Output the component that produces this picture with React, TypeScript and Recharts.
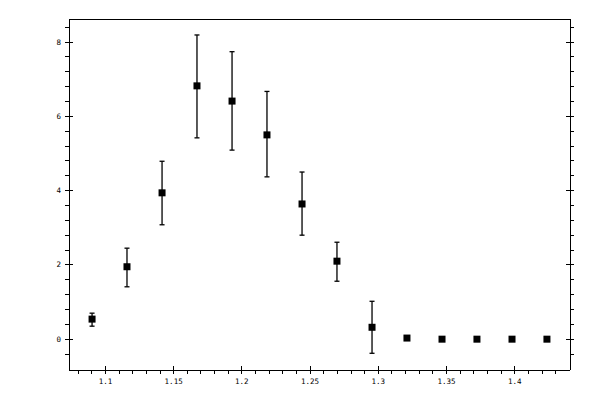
import React from 'react';
import { ScatterChart, Scatter, XAxis, YAxis, ErrorBar } from 'recharts';

// measured points (x, y) with lower / upper error lengths
const xValues = [1.0902, 1.1158, 1.1415, 1.1671, 1.1928, 1.2184, 1.2441, 1.2697, 1.2954, 1.321, 1.3467, 1.3723, 1.398, 1.4236];
const yValues = [0.54, 1.95, 3.94, 6.82, 6.41, 5.5, 3.64, 2.1, 0.32, 0.03, 0, 0, 0, 0];
const errMinus = [0.19, 0.54, 0.86, 1.4, 1.32, 1.13, 0.84, 0.54, 0.7, 0, 0, 0, 0, 0];
const errPlus = [0.16, 0.5, 0.85, 1.37, 1.33, 1.17, 0.86, 0.51, 0.7, 0, 0, 0, 0, 0];

const xMajorTicks = [1.1, 1.15, 1.2, 1.25, 1.3, 1.35, 1.4];
const xMinorTicks = [
  1.08, 1.09, 1.11, 1.12, 1.13, 1.14, 1.16, 1.17, 1.18, 1.19, 1.21, 1.22, 1.23, 1.24,
  1.26, 1.27, 1.28, 1.29, 1.31, 1.32, 1.33, 1.34, 1.36, 1.37, 1.38, 1.39, 1.41, 1.42, 1.43,
];
const yMajorTicks = [0, 2, 4, 6, 8];
const yMinorTicks = [-0.4, 0.4, 0.8, 1.2, 1.6, 2.4, 2.8, 3.2, 3.6, 4.4, 4.8, 5.2, 5.6, 6.4, 6.8, 7.2, 7.6, 8.4];

const xDomain = [1.0733, 1.4405];
const yDomain = [-0.83, 8.62];

const data = xValues.map((x, i) => ({ x, y: yValues[i], err: [errMinus[i], errPlus[i]] }));
const xTicks = [...xMajorTicks, ...xMinorTicks].sort((a, b) => a - b);
const yTicks = [...yMajorTicks, ...yMinorTicks].sort((a, b) => a - b);

const FONT = '"DejaVu Sans Mono", monospace';
const TICK = 4;

const isMajor = (v: number, majors: number[]) => majors.some(m => Math.abs(m - v) < 1e-6);

const makeTick = (side: 'top' | 'bottom' | 'left' | 'right', majors: number[], label: boolean) => (props: any) => {
  const { x, y, payload } = props;
  const major = isMajor(payload.value, majors);
  let l: number[];
  if (side === 'bottom') l = major ? [x, y - TICK, x, y + TICK] : [x, y, x, y + TICK];
  else if (side === 'top') l = major ? [x, y - TICK, x, y + TICK] : [x, y - TICK, x, y];
  else if (side === 'left') l = major ? [x - TICK, y, x + TICK, y] : [x - TICK, y, x, y];
  else l = major ? [x - TICK, y, x + TICK, y] : [x, y, x + TICK, y];
  return (
    <g>
      <line x1={l[0]} y1={l[1]} x2={l[2]} y2={l[3]} stroke="#000" strokeWidth={1} shapeRendering="crispEdges" />
      {label && major && side === 'bottom' && (
        <text x={x} y={y + 13.5} textAnchor="middle" fontFamily={FONT} fontSize={7.5} fill="#000" stroke="none">
          {String(payload.value)}
        </text>
      )}
      {label && major && side === 'left' && (
        <text x={x - 8} y={y + 2.5} textAnchor="end" fontFamily={FONT} fontSize={7.5} fill="#000" stroke="none">
          {String(payload.value)}
        </text>
      )}
    </g>
  );
};

const SquareMarker = (props: any) => {
  const { cx, cy } = props;
  return <rect x={cx - 3.5} y={cy - 3.5} width={7} height={7} fill="#000" />;
};

const axisLine = { stroke: '#000', strokeWidth: 1, shapeRendering: 'crispEdges' };

const App: React.FC = () => {
  return (
    <div style={{ position: 'absolute', left: 0, top: 0, width: 600, height: 400, background: '#fff' }}>
      <ScatterChart width={600} height={400} margin={{ top: 0, right: 0, bottom: 0, left: 0 }}>
        <XAxis
          xAxisId="bottom"
          dataKey="x"
          type="number"
          orientation="bottom"
          domain={xDomain}
          allowDataOverflow
          ticks={xTicks}
          interval={0}
          height={30}
          tickSize={0}
          tickMargin={0}
          tickLine={false}
          axisLine={axisLine}
          tick={makeTick('bottom', xMajorTicks, true)}
        />
        <XAxis
          xAxisId="top"
          type="number"
          orientation="top"
          domain={xDomain}
          allowDataOverflow
          ticks={xTicks}
          interval={0}
          height={19}
          tickSize={0}
          tickMargin={0}
          tickLine={false}
          axisLine={axisLine}
          tick={makeTick('top', xMajorTicks, false)}
        />
        <YAxis
          yAxisId="left"
          dataKey="y"
          type="number"
          orientation="left"
          domain={yDomain}
          allowDataOverflow
          ticks={yTicks}
          interval={0}
          width={69}
          tickSize={0}
          tickMargin={0}
          tickLine={false}
          axisLine={axisLine}
          tick={makeTick('left', yMajorTicks, true)}
        />
        <YAxis
          yAxisId="right"
          type="number"
          orientation="right"
          domain={yDomain}
          allowDataOverflow
          ticks={yTicks}
          interval={0}
          width={30}
          tickSize={0}
          tickMargin={0}
          tickLine={false}
          axisLine={axisLine}
          tick={makeTick('right', yMajorTicks, false)}
        />
        <Scatter
          data={data}
          xAxisId="bottom"
          yAxisId="left"
          fill="#000"
          shape={SquareMarker}
          isAnimationActive={false}
        >
          <ErrorBar dataKey="err" direction="y" width={2.5} stroke="#000" strokeWidth={1.3} isAnimationActive={false} />
        </Scatter>
      </ScatterChart>
    </div>
  );
};

export default App;
